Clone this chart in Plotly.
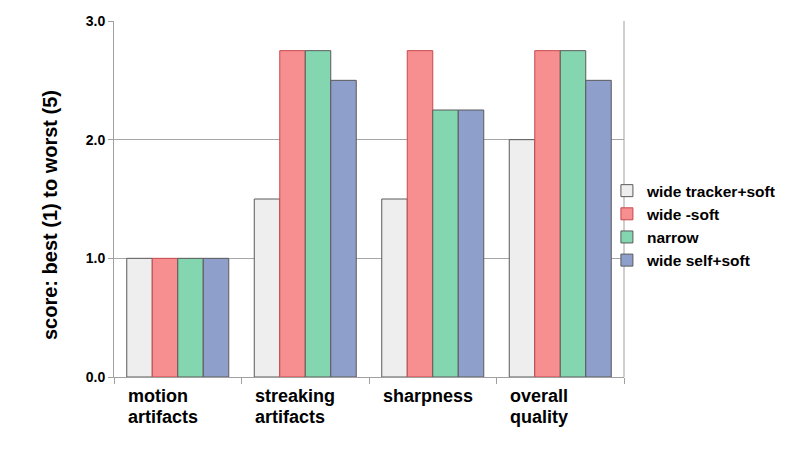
import plotly.graph_objects as go

categories = ["motion<br>artifacts", "streaking<br>artifacts", "sharpness", "overall<br>quality"]
series_names = ["wide tracker+soft", "wide -soft", "narrow", "wide self+soft"]
values = {
    "wide tracker+soft": [1.0, 1.5, 1.5, 2.0],
    "wide -soft": [1.0, 2.75, 2.75, 2.75],
    "narrow": [1.0, 2.75, 2.25, 2.75],
    "wide self+soft": [1.0, 2.5, 2.25, 2.5],
}
colors = ["#EEEEEE", "#F78E8F", "#84D6B1", "#8F9FCB"]
edges = ["#5A5A5A", "#C8484E", "#5A5A5A", "#5A5A5A"]
y_ticks = [0, 1, 2, 3]
y_ticklabels = ["0.0", "1.0", "2.0", "3.0"]
y_title = "score: best (1) to worst (5)"

FONT = "Arial, Liberation Sans, sans-serif"

fig = go.Figure()
for name, c, e in zip(series_names, colors, edges):
    fig.add_trace(go.Bar(x=list(range(len(categories))), y=values[name], name=name,
                         marker=dict(color=c, line=dict(color=e, width=1))))

for i, cat in enumerate(categories):
    for j, line in enumerate(cat.split("<br>")):
        fig.add_annotation(x=i, y=0, xref="x", yref="y", text="<b>%s</b>" % line,
                           showarrow=False, xanchor="left", yanchor="top",
                           xshift=-52, yshift=-7 - 21 * j, align="left",
                           font=dict(family=FONT, size=18, color="black"))

fig.add_annotation(x=-0.1255, y=0.455, xref="paper", yref="paper",
                   text="<b>%s</b>" % y_title, textangle=-90, showarrow=False,
                   xanchor="center", yanchor="middle",
                   font=dict(family=FONT, size=20, color="black"))

fig.update_layout(
    width=786, height=449,
    margin=dict(l=114, r=162, t=21, b=72, autoexpand=False),
    paper_bgcolor="white", plot_bgcolor="white",
    barmode="group", bargap=0.2, bargroupgap=0,
    font=dict(family=FONT, color="black"),
    showlegend=True,
    legend=dict(x=0.9665, y=0.570, xanchor="left", yanchor="top",
                font=dict(family=FONT, size=15.5, color="black", weight="bold"),
                bgcolor="rgba(0,0,0,0)", itemwidth=30, tracegroupgap=0),
    xaxis=dict(range=[-0.5, 3.5], tickmode="array", tickvals=[-0.5, 0.5, 1.5, 2.5, 3.5],
               ticktext=["", "", "", "", ""], ticks="outside", ticklen=6, tickcolor="#A0A0A0",
               showline=True, linecolor="#A0A0A0", linewidth=1, mirror=False,
               showgrid=False, zeroline=False, fixedrange=True),
    yaxis=dict(range=[0, 3], tickmode="array", tickvals=y_ticks, ticktext=y_ticklabels,
               ticks="outside", ticklen=5, tickcolor="#A0A0A0",
               showline=True, linecolor="#A0A0A0", linewidth=1, layer="above traces",
               showgrid=True, gridcolor="rgba(80,80,80,0.5)", gridwidth=1, zeroline=False,
               tickfont=dict(family=FONT, size=14, color="black", weight="bold"),
               fixedrange=True),
)
# right border line
fig.add_shape(type="line", xref="paper", yref="paper", x0=1, x1=1, y0=0, y1=1,
              line=dict(color="#A0A0A0", width=1))

fig.write_html("out.html", config={"displayModeBar": False},
               post_script="document.body.style.margin='0px';")
